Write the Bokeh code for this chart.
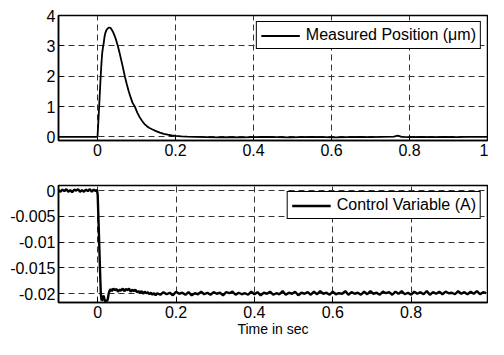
from bokeh.plotting import figure
from bokeh.models import Range1d, FixedTicker
from bokeh.layouts import column
from bokeh.embed import file_html
from bokeh.resources import INLINE

FONT = "Liberation Sans"

# ---------------- data: measured position (um) ----------------
t_pos = [-0.1, -0.06, -0.03, -0.002, 0.0, 0.002, 0.004, 0.006, 0.008, 0.010,
         0.012, 0.014, 0.016, 0.018, 0.020, 0.023, 0.026, 0.029, 0.032, 0.034,
         0.037, 0.040, 0.044, 0.048, 0.052, 0.056, 0.060, 0.065, 0.070, 0.075,
         0.080, 0.085, 0.090, 0.096, 0.102, 0.108, 0.114, 0.120, 0.126, 0.132,
         0.140, 0.150, 0.160, 0.170, 0.180, 0.190, 0.200, 0.215, 0.230, 0.250,
         0.280, 0.310, 0.340, 0.370, 0.400, 0.430, 0.460, 0.490, 0.520, 0.550,
         0.580, 0.610, 0.640, 0.670, 0.700, 0.730, 0.760, 0.770, 0.780, 0.800,
         0.830, 0.860, 0.890, 0.920, 0.950, 0.980, 1.000]
pos = [0.0, 0.0, 0.0, 0.0, 0.0, 0.45, 0.95, 1.45, 1.95, 2.4,
       2.75, 2.95, 3.1, 3.3, 3.42, 3.52, 3.57, 3.6, 3.6, 3.58,
       3.52, 3.45, 3.33, 3.18, 3.0, 2.8, 2.58, 2.3, 2.0, 1.74,
       1.5, 1.3, 1.12, 0.99, 0.8, 0.65, 0.53, 0.43, 0.36, 0.3,
       0.25, 0.19, 0.14, 0.1, 0.07, 0.045, 0.03, 0.015, 0.005, 0.0,
       -0.01, -0.02, -0.01, -0.02, -0.01, 0.0, -0.01, -0.02, -0.01, 0.0,
       -0.01, -0.02, -0.01, 0.0, -0.01, 0.0, 0.01, 0.04, 0.0, -0.01,
       0.0, -0.01, 0.0, -0.01, 0.0, 0.0, 0.0]

# ---------------- data: control variable (A) ----------------
t_pre = [-0.1, -0.095, -0.09, -0.085, -0.08, -0.075, -0.07, -0.065, -0.06, -0.055,
         -0.05, -0.045, -0.04, -0.035, -0.03, -0.025, -0.02, -0.015, -0.01, -0.005,
         -0.002]
u_pre = [0.0001, -0.0002, 0.0002, -0.0001, 0.0003, -0.0002, 0.0001, -0.0003, 0.0002, 0.0,
         0.0003, -0.0002, 0.0001, -0.0002, 0.0002, -0.0001, 0.0003, -0.0002, 0.0002, -0.0001,
         0.0002]
t_step = [0.0, 0.002, 0.004, 0.006, 0.008, 0.010, 0.012, 0.014, 0.016, 0.018,
          0.020, 0.022, 0.024, 0.026, 0.028, 0.030, 0.033, 0.036, 0.040, 0.044,
          0.048, 0.052, 0.056, 0.060, 0.064, 0.068, 0.072, 0.076, 0.080, 0.084,
          0.088, 0.092, 0.096, 0.100, 0.104, 0.108, 0.112, 0.116, 0.120, 0.124,
          0.128, 0.132, 0.136, 0.140, 0.144, 0.148, 0.152]
u_step = [-0.0008, -0.0055, -0.0105, -0.0155, -0.0200, -0.0213, -0.0211, -0.0204, -0.0206, -0.0213,
          -0.0215, -0.0212, -0.0214, -0.0210, -0.0200, -0.0195, -0.0191, -0.0195, -0.0190, -0.0193,
          -0.0191, -0.0196, -0.0192, -0.0194, -0.0190, -0.0195, -0.0191, -0.0193, -0.0190, -0.0196,
          -0.0192, -0.0195, -0.0192, -0.0197, -0.0195, -0.0198, -0.0195, -0.0200, -0.0196, -0.0199,
          -0.0197, -0.0201, -0.0198, -0.0202, -0.0199, -0.0203, -0.0199]
u_steady = [-0.0202, -0.0197, -0.0201, -0.0198, -0.0203, -0.0196, -0.0200, -0.0198, -0.0202, -0.0197,
            -0.0203, -0.0199, -0.0201, -0.0196, -0.0201, -0.0198, -0.0202, -0.0197, -0.0200, -0.0198,
            -0.0203, -0.0197, -0.0199, -0.0196, -0.0202, -0.0198, -0.0201, -0.0199, -0.0202, -0.0196,
            -0.0201, -0.0197, -0.0203, -0.0198, -0.0200, -0.0196, -0.0202, -0.0199, -0.0201, -0.0195,
            -0.0202, -0.0198, -0.0200, -0.0196, -0.0203, -0.0198, -0.0200, -0.0197, -0.0202, -0.0196,
            -0.0201, -0.0195, -0.0200, -0.0198, -0.0202, -0.0196, -0.0201, -0.0199, -0.0200, -0.0195,
            -0.0202, -0.0197, -0.0200, -0.0198, -0.0202, -0.0196, -0.0201, -0.0195, -0.0200, -0.0198,
            -0.0202, -0.0196, -0.0199, -0.0197, -0.0202, -0.0196, -0.0200, -0.0195, -0.0201, -0.0198,
            -0.0202, -0.0196, -0.0200, -0.0197, -0.0201, -0.0195, -0.0202, -0.0197, -0.0200, -0.0196,
            -0.0201, -0.0196, -0.0199, -0.0198, -0.0201, -0.0195, -0.0200, -0.0197, -0.0201, -0.0196,
            -0.0200, -0.0195, -0.0201, -0.0197, -0.0199]
t_steady = [round(0.16 + 0.008 * i, 3) for i in range(len(u_steady))]

t_ctrl = t_pre + t_step + t_steady
u_ctrl = u_pre + u_step + u_steady

# ---------------- ticks ----------------
x_ticks = [0, 0.2, 0.4, 0.6, 0.8, 1.0]
x_tick_labels = ["0", "0.2", "0.4", "0.6", "0.8", "1"]
y1_ticks = [0, 1, 2, 3, 4]
y1_tick_labels = ["0", "1", "2", "3", "4"]
y2_ticks = [0, -0.005, -0.01, -0.015, -0.02]
y2_tick_labels = ["0", "-0.005", "-0.01", "-0.015", "-0.02"]


def style(p, xt, xl, yt, yl):
    p.outline_line_color = "black"
    p.outline_line_width = 1.5
    p.outline_line_alpha = 1
    p.background_fill_color = "white"
    p.border_fill_color = "white"
    for ax in (p.xaxis[0], p.yaxis[0]):
        ax.major_tick_in = 5
        ax.major_tick_out = 0
        ax.minor_tick_line_color = None
        ax.axis_line_color = "black"
        ax.axis_line_width = 1.5
        ax.major_tick_line_color = "black"
        ax.major_label_text_font = FONT
        ax.major_label_text_font_size = "16px"
        ax.major_label_text_color = "black"
        ax.major_label_standoff = 3
    p.xaxis[0].ticker = FixedTicker(ticks=xt)
    p.xaxis[0].major_label_overrides = {v: s for v, s in zip(xt, xl)}
    p.yaxis[0].ticker = FixedTicker(ticks=yt)
    p.yaxis[0].major_label_overrides = {v: s for v, s in zip(yt, yl)}
    p.grid.grid_line_color = "#333333"
    p.grid.grid_line_width = 1
    p.grid.grid_line_dash = "6 4"


def style_legend(p):
    lg = p.legend[0]
    lg.location = "top_right"
    lg.border_line_color = "black"
    lg.border_line_width = 1.2
    lg.border_line_alpha = 1
    lg.background_fill_alpha = 1
    lg.label_text_font = FONT
    lg.label_text_font_size = "16px"
    lg.label_text_color = "black"
    lg.glyph_width = 39
    lg.glyph_height = 17
    lg.label_height = 17
    lg.label_standoff = 6
    lg.padding = 4
    lg.spacing = 0
    lg.margin = 6


p1 = figure(width=488, height=163, output_backend="svg", toolbar_location=None,
            x_range=Range1d(-0.1, 1.0), y_range=Range1d(-0.12, 4.0),
            min_border_left=58, min_border_right=1, min_border_top=15, min_border_bottom=23)
p1.line(t_pos, pos, line_color="black", line_width=1.8, legend_label="Measured Position (\u03bcm)")
style(p1, x_ticks, x_tick_labels, y1_ticks, y1_tick_labels)
style_legend(p1)

p2 = figure(width=488, height=176, output_backend="svg", toolbar_location=None,
            x_range=Range1d(-0.1, 0.995), y_range=Range1d(-0.0217, 0.001),
            min_border_left=58, min_border_right=1, min_border_top=22, min_border_bottom=37)
p2.line(t_ctrl, u_ctrl, line_color="black", line_width=2.4, legend_label="Control Variable (A)")
style(p2, x_ticks, x_tick_labels, y2_ticks, y2_tick_labels)
style_legend(p2)
p2.xaxis[0].axis_label = "Time in sec"
p2.xaxis[0].axis_label_text_font = FONT
p2.xaxis[0].axis_label_text_font_size = "14px"
p2.xaxis[0].axis_label_text_font_style = "normal"
p2.xaxis[0].axis_label_text_color = "black"
p2.xaxis[0].axis_label_standoff = 0

layout = column(p1, p2, spacing=0)
open("out.html", "w").write(file_html(layout, INLINE))
